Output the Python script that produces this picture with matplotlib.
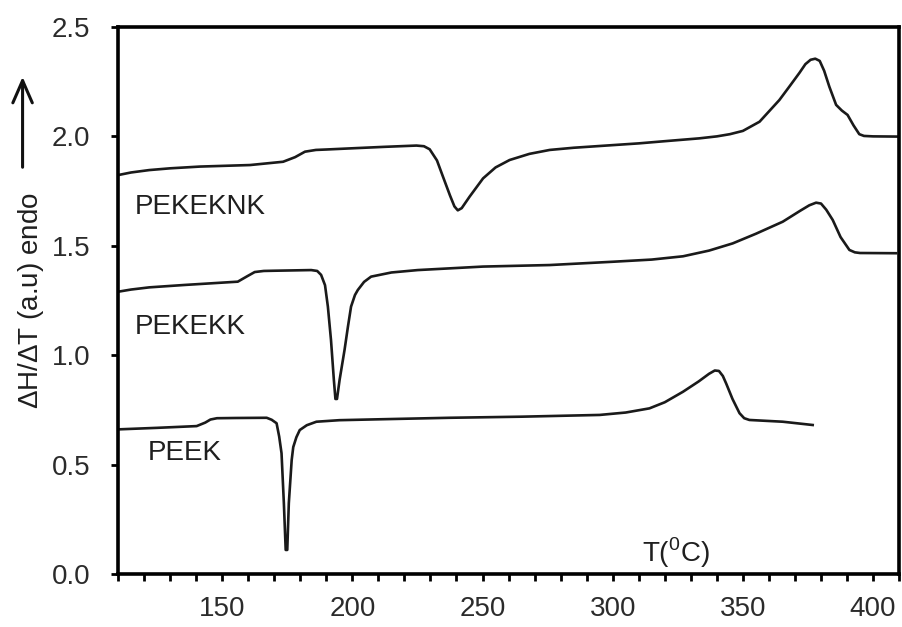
import matplotlib.pyplot as plt
from matplotlib.patches import FancyArrowPatch

plt.rcParams['font.family'] = ['Liberation Sans', 'DejaVu Sans']
plt.rcParams['mathtext.fontset'] = 'custom'
plt.rcParams['mathtext.rm'] = 'Liberation Sans'

# DSC traces (T in degC, heat flow in arbitrary units)
t_pekeknk = [110, 115.0, 122.0, 130.0, 141.5, 160.7, 173.4, 178.0, 181.8, 186.0,
             190.0, 199.0, 212.0, 224.6, 227.5, 229.7, 232.5, 234.8, 237.5, 239.2,
             240.5, 242.0, 245.0, 250.2, 255.0, 260.4, 268.0, 275.8, 285.0, 295.0,
             310.0, 320.0, 333.3, 340.0, 345.0, 350.0, 356.4, 364.0, 368.0, 371.7,
             374.0, 376.0, 377.8, 379.5, 381.2, 383.2, 385.8, 388.0, 390.2, 392.5,
             394.7, 396.5, 400.0, 410.0]
h_pekeknk = [1.823, 1.835, 1.846, 1.854, 1.862, 1.869, 1.884, 1.905, 1.930, 1.938,
             1.940, 1.945, 1.952, 1.958, 1.955, 1.941, 1.890, 1.816, 1.730, 1.680,
             1.662, 1.672, 1.724, 1.808, 1.858, 1.892, 1.920, 1.938, 1.948, 1.956,
             1.968, 1.978, 1.991, 2.000, 2.010, 2.025, 2.067, 2.166, 2.230, 2.290,
             2.330, 2.350, 2.355, 2.345, 2.300, 2.227, 2.144, 2.118, 2.098, 2.050,
             2.010, 2.002, 2.000, 1.999]

t_pekekk = [110, 115.0, 122.0, 135.6, 156.0, 159.5, 162.5, 166.0, 170.0, 184.2,
            186.5, 188.0, 189.5, 190.6, 191.8, 192.9, 193.5, 194.1, 195.1, 197.0,
            198.3, 199.5, 201.0, 202.1, 204.5, 207.2, 215.0, 225.1, 250.2, 275.8,
            300.0, 315.0, 327.0, 337.0, 346.1, 355.0, 365.3, 372.0, 375.5, 378.1,
            380.0, 382.0, 384.5, 387.5, 390.9, 393.0, 395.0, 408.8]
h_pekekk = [1.290, 1.300, 1.310, 1.321, 1.336, 1.360, 1.380, 1.385, 1.386, 1.389,
            1.385, 1.367, 1.320, 1.222, 1.069, 0.887, 0.800, 0.800, 0.887, 1.024,
            1.130, 1.222, 1.275, 1.298, 1.335, 1.359, 1.378, 1.389, 1.405, 1.412,
            1.427, 1.437, 1.452, 1.478, 1.511, 1.555, 1.610, 1.660, 1.685, 1.697,
            1.693, 1.665, 1.618, 1.540, 1.481, 1.470, 1.467, 1.466]

t_peek = [110, 125.0, 140.2, 143.5, 145.5, 148.0, 155.0, 167.1, 169.0, 170.9,
          171.9, 172.8, 173.7, 174.4, 175.0, 175.6, 176.7, 177.3, 178.5, 179.8,
          182.5, 186.2, 195.0, 210.0, 237.4, 265.0, 295.0, 305.0, 314.1, 320.0,
          327.0, 333.0, 337.0, 339.2, 340.8, 342.3, 343.6, 346.0, 348.7, 350.5,
          352.5, 365.3, 376.8]
h_peek = [0.661, 0.668, 0.676, 0.692, 0.706, 0.712, 0.713, 0.714, 0.705, 0.689,
          0.628, 0.552, 0.323, 0.110, 0.110, 0.324, 0.521, 0.580, 0.625, 0.658,
          0.680, 0.696, 0.703, 0.707, 0.714, 0.719, 0.727, 0.738, 0.757, 0.785,
          0.833, 0.880, 0.915, 0.930, 0.928, 0.905, 0.870, 0.800, 0.735, 0.712,
          0.704, 0.696, 0.681]

names = ['PEKEKNK', 'PEKEKK', 'PEEK']
name_xy = [(116.5, 1.677), (116.4, 1.127), (121.6, 0.552)]

fig = plt.figure(figsize=(9.03, 6.27), dpi=100)
ax = fig.add_axes([0.1307, 0.0845, 0.865, 0.8725])

for t, h in [(t_pekeknk, h_pekeknk), (t_pekekk, h_pekekk), (t_peek, h_peek)]:
    ax.plot(t, h, color='#1a1a1a', lw=1.9, solid_joinstyle='round')

for name, (x, y) in zip(names, name_xy):
    ax.text(x, y, name, fontsize=20, ha='left', va='center', color='#1f1f1f')

ax.text(311.3, 0.096, r'T($^{0}$C)', fontsize=20, ha='left', va='center', color='#1f1f1f')

ax.set_xlim(110, 410)
ax.set_ylim(0, 2.5)
ax.set_xticks([150, 200, 250, 300, 350, 400])
ax.set_xticks(range(110, 411, 10), minor=True)
ax.set_yticks([0.0, 0.5, 1.0, 1.5, 2.0, 2.5])
ax.set_yticklabels(['0.0', '0.5', '1.0', '1.5', '2.0', '2.5'])
ax.tick_params(axis='both', which='both', direction='out', length=5, width=2,
               labelsize=20, labelcolor='#2b2b2b')
ax.tick_params(axis='x', which='major', pad=11)
ax.tick_params(axis='y', which='major', pad=15)
for sp in ax.spines.values():
    sp.set_linewidth(2.6)

# y label with the "endo" arrow above it
fig.text(0.034, 0.52, r'$\Delta$H/$\Delta$T (a.u) endo', rotation=90, fontsize=20,
         ha='center', va='center', color='#1f1f1f')
fig.patches.append(FancyArrowPatch(
    (0.025, 1 - 170 / 627), (0.025, 1 - 74 / 627), transform=fig.transFigure,
    arrowstyle='->,head_length=16,head_width=7', lw=2.2, color='#111111',
    mutation_scale=1))

plt.savefig('out.png', dpi=100)
